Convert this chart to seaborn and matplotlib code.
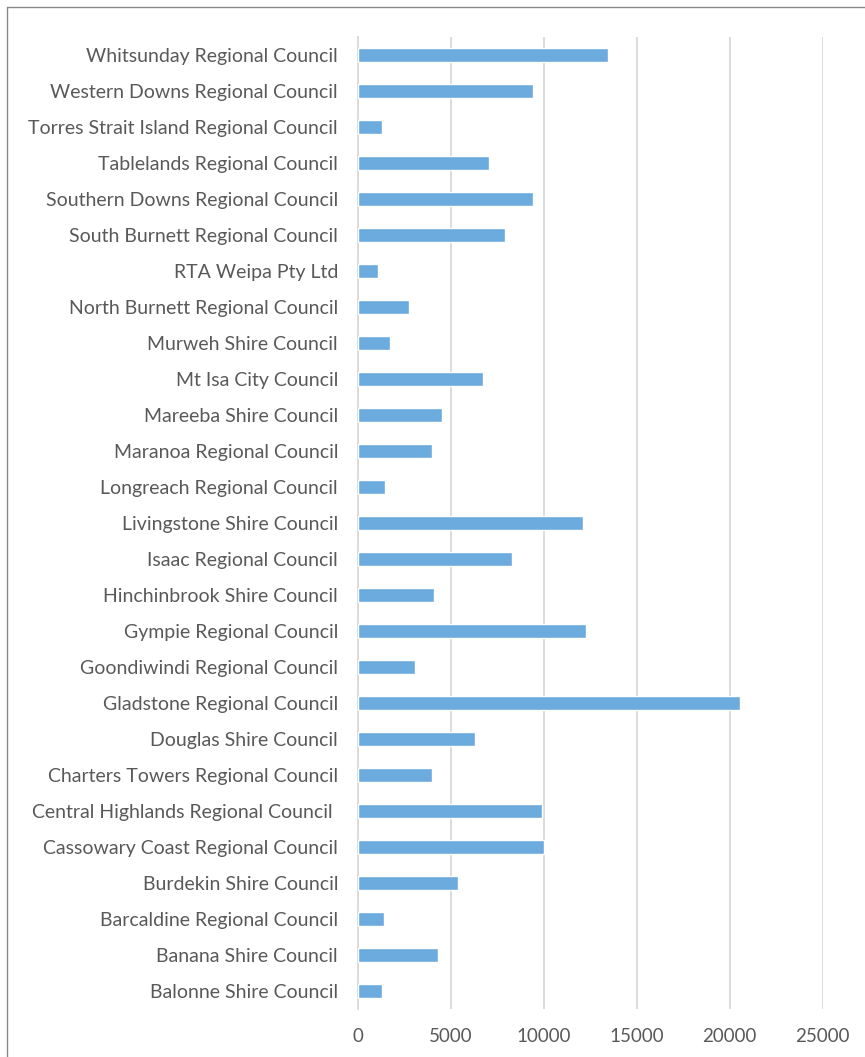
import matplotlib
matplotlib.use("Agg")
import matplotlib.pyplot as plt
import seaborn as sns
import pandas as pd
from matplotlib.lines import Line2D

councils = [
    "Balonne Shire Council",
    "Banana Shire Council",
    "Barcaldine Regional Council",
    "Burdekin Shire Council",
    "Cassowary Coast Regional Council",
    "Central Highlands Regional Council ",
    "Charters Towers Regional Council",
    "Douglas Shire Council",
    "Gladstone Regional Council",
    "Goondiwindi Regional Council",
    "Gympie Regional Council",
    "Hinchinbrook Shire Council",
    "Isaac Regional Council",
    "Livingstone Shire Council",
    "Longreach Regional Council",
    "Maranoa Regional Council",
    "Mareeba Shire Council",
    "Mt Isa City Council",
    "Murweh Shire Council",
    "North Burnett Regional Council",
    "RTA Weipa Pty Ltd",
    "South Burnett Regional Council",
    "Southern Downs Regional Council",
    "Tablelands Regional Council",
    "Torres Strait Island Regional Council",
    "Western Downs Regional Council",
    "Whitsunday Regional Council",
]
values = [
    1320, 4330, 1420, 5400, 10030, 9920, 4000, 6320, 20560, 3090,
    12280, 4110, 8300, 12120, 1480, 4000, 4540, 6750, 1750, 2770,
    1100, 7930, 9430, 7070, 1320, 9430, 13470,
]
x_ticks = [0, 5000, 10000, 15000, 20000, 25000]

df = pd.DataFrame({"council": councils, "value": values})
order = councils[::-1]

sns.set_theme(style="white")
plt.rcParams["font.family"] = ["Lato", "DejaVu Sans"]

fig = plt.figure(figsize=(8.65, 10.57), dpi=100)
ax = fig.add_axes([0.4133, 0.0454, 0.5376, 0.9196])

sns.barplot(data=df, y="council", x="value", order=order, orient="h",
            color="#6CABDD", saturation=1, width=0.37, ax=ax, zorder=3)

ax.set_xlim(0, 25000)
ax.set_xticks(x_ticks)
ax.set_xticklabels([str(t) for t in x_ticks])
ax.set_xlabel("")
ax.set_ylabel("")
ax.grid(axis="x", color="#D9D9D9", linewidth=1.3, zorder=0)
ax.grid(axis="y", visible=False)
for s in ["top", "right", "bottom"]:
    ax.spines[s].set_visible(False)
ax.spines["left"].set_color("#D9D9D9")
ax.spines["left"].set_linewidth(1.3)
ax.tick_params(axis="y", length=0, colors="#595959", labelsize=14, pad=14)
ax.tick_params(axis="x", length=0, colors="#595959", labelsize=13.5, pad=14)
for lab in ax.get_yticklabels() + ax.get_xticklabels():
    lab.set_color("#595959")

# chart-area border (cropped: only top and left edges visible)
top_y = 1 - 7 / 1057
left_x = 6.5 / 865
fig.lines.append(Line2D([left_x, 1.0], [top_y, top_y], transform=fig.transFigure,
                        color="#888888", linewidth=1.0))
fig.lines.append(Line2D([left_x, left_x], [0.0, top_y], transform=fig.transFigure,
                        color="#888888", linewidth=1.0))

fig.savefig("out.png", dpi=100)
